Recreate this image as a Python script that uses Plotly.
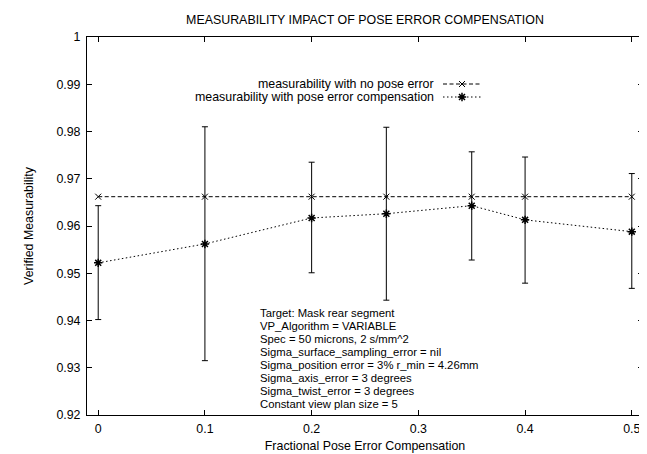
import plotly.graph_objects as go

# ---- data ----
comp_fraction = [0, 0.1, 0.2, 0.27, 0.35, 0.4, 0.5]
no_pose_error = [0.9662, 0.9662, 0.9662, 0.9662, 0.9662, 0.9662, 0.9662]
with_compensation = [0.9522, 0.9562, 0.9617, 0.9626, 0.9643, 0.9613, 0.9588]
upper_bound = [0.9643, 0.9810, 0.9735, 0.9809, 0.9757, 0.9746, 0.9711]
lower_bound = [0.9402, 0.9315, 0.9501, 0.9443, 0.9528, 0.9479, 0.9468]

x_ticks = [0, 0.1, 0.2, 0.3, 0.4, 0.5]
x_tick_labels = ["0", "0.1", "0.2", "0.3", "0.4", "0.5"]
y_ticks = [0.92, 0.93, 0.94, 0.95, 0.96, 0.97, 0.98, 0.99, 1.0]
y_tick_labels = ["0.92", "0.93", "0.94", "0.95", "0.96", "0.97", "0.98", "0.99", "1"]

series_names = ["measurability with no pose error",
                "measurability with pose error compensation"]
notes = [
    "Target: Mask rear segment",
    "VP_Algorithm = VARIABLE",
    "Spec = 50 microns, 2 s/mm^2",
    "Sigma_surface_sampling_error = nil",
    "Sigma_position error = 3% r_min = 4.26mm",
    "Sigma_axis_error = 3 degrees",
    "Sigma_twist_error = 3 degrees",
    "Constant view plan size = 5",
]

err_plus = [u - v for u, v in zip(upper_bound, with_compensation)]
err_minus = [v - l for v, l in zip(with_compensation, lower_bound)]

FONT = "Liberation Sans, Arial, Helvetica, sans-serif"
FS = 12.4
NOTE_FS = 11.3
NOTE_STEP = 13
W, H = 647, 454
ML, MR, MT, MB = 79, 12, 29, 47
PW, PH = W - ML - MR, H - MT - MB

DASH = "4px,2.5px"
DOT = "1.5px,2.5px"

fig = go.Figure()

fig.add_trace(go.Scatter(
    x=comp_fraction, y=no_pose_error, mode="lines+markers",
    line=dict(color="black", width=1, dash=DASH),
    marker=dict(symbol="x-thin-open", size=6, color="black",
                line=dict(width=1, color="black")),
    showlegend=False, name=series_names[0]))

fig.add_trace(go.Scatter(
    x=comp_fraction, y=with_compensation, mode="lines+markers",
    line=dict(color="black", width=1, dash=DOT),
    marker=dict(symbol="asterisk-open", size=7, color="black",
                line=dict(width=1.5, color="black")),
    error_y=dict(type="data", symmetric=False, array=err_plus,
                 arrayminus=err_minus, color="black", thickness=1, width=3),
    showlegend=False, name=series_names[1]))

# ---- gnuplot-style key: text right-aligned, sample to the right ----
key_text_right = 428
key_rows_y = [76.0, 89.0]
sample_x0, sample_x1 = 435, 473
symbols = ["x-thin-open", "asterisk-open"]


def px_x(p):
    return (p - ML) / PW


def px_y(p):
    return (H - MB - p) / PH


for i, name in enumerate(series_names):
    fig.add_annotation(text=name, xref="paper", yref="paper",
                       x=px_x(key_text_right), y=px_y(key_rows_y[i]),
                       xanchor="right", yanchor="middle", showarrow=False,
                       font=dict(family=FONT, size=FS, color="black"))
    fig.add_shape(type="line", xref="paper", yref="paper",
                  x0=px_x(sample_x0), x1=px_x(sample_x1),
                  y0=px_y(key_rows_y[i]), y1=px_y(key_rows_y[i]),
                  line=dict(color="black", width=1, dash=DASH if i == 0 else DOT))
    fig.add_trace(go.Scatter(
        x=[px_x((sample_x0 + sample_x1) / 2)], y=[px_y(key_rows_y[i])],
        xaxis="x2", yaxis="y2", mode="markers", showlegend=False,
        marker=dict(symbol=symbols[i], size=6 if i == 0 else 7, color="black",
                    line=dict(width=1 if i == 0 else 1.5, color="black")),
        hoverinfo="skip"))

# ---- label block ----
for i, t in enumerate(notes):
    fig.add_annotation(text=t, x=0.15, y=0.94157, xref="x", yref="y",
                       xanchor="left", yanchor="middle", showarrow=False,
                       yshift=-NOTE_STEP * i,
                       font=dict(family=FONT, size=NOTE_FS, color="black"))

fig.update_layout(
    width=W, height=H,
    margin=dict(l=ML, r=MR, t=MT, b=MB, pad=0),
    paper_bgcolor="white", plot_bgcolor="white",
    font=dict(family=FONT, size=FS, color="black"),
    title=dict(text="MEASURABILITY IMPACT OF POSE ERROR COMPENSATION",
               x=(ML + W - MR) / 2 / W, xanchor="center",
               y=1 - 11.5 / H, yanchor="middle", yref="container",
               font=dict(family=FONT, size=FS, color="black")),
    xaxis=dict(range=[-0.0105, 0.5105], tickvals=x_ticks, ticktext=x_tick_labels,
               ticks="inside", ticklen=5, tickcolor="black", tickwidth=1,
               showline=True, linecolor="black", linewidth=1, mirror="allticks",
               showgrid=False, zeroline=False, ticklabelstandoff=2,
               title=dict(text="Fractional Pose Error Compensation", standoff=6,
                          font=dict(family=FONT, size=FS))),
    yaxis=dict(range=[0.92, 1.0], tickvals=y_ticks, ticktext=y_tick_labels,
               ticks="inside", ticklen=5, tickcolor="black", tickwidth=1,
               showline=True, linecolor="black", linewidth=1, mirror="allticks",
               showgrid=False, zeroline=False, ticklabelstandoff=3,
               title=dict(text="Verified Measurability", standoff=20,
                          font=dict(family=FONT, size=FS))),
    xaxis2=dict(range=[0, 1], overlaying="x", visible=False, fixedrange=True),
    yaxis2=dict(range=[0, 1], overlaying="y", visible=False, fixedrange=True),
)

fig.write_html("out.html")
